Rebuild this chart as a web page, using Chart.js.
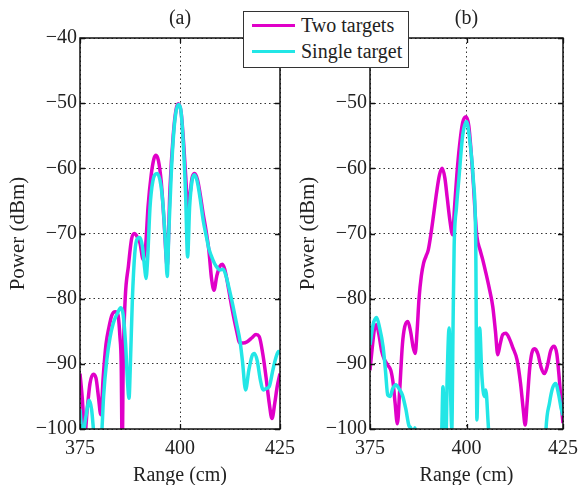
<!DOCTYPE html>
<html>
<head>
<meta charset="utf-8">
<script src="https://cdn.jsdelivr.net/npm/chart.js@4"></script>
<style>
  body { margin: 0; background: #fff; }
  #wrap { position: relative; width: 586px; height: 485px; background: #fff; }
  #wrap canvas { position: absolute; left: 0; top: 0; }
  #legend {
    position: absolute; left: 243px; top: 11px; width: 164px; height: 55px;
    border: 1px solid #333; background: #fff;
    font: 20px 'Liberation Serif', 'Times New Roman', serif; color: #222;
  }
  #legend .row { position: absolute; left: 8px; height: 24px; display: flex; align-items: center; white-space: nowrap; }
  #legend .swatch { width: 43px; height: 3px; margin-right: 6px; }
</style>
</head>
<body>
<div id="wrap">
  <canvas id="plotA" width="586" height="485"></canvas>
  <canvas id="plotB" width="586" height="485"></canvas>
  <div id="legend">
    <div class="row" style="top:1px"><span class="swatch" style="background:#e000c8"></span>Two targets</div>
    <div class="row" style="top:27px"><span class="swatch" style="background:#22e6e6"></span>Single target</div>
  </div>
</div>
<script>
const seriesNames = ['Two targets', 'Single target'];
const seriesColors = ['#e000c8', '#22e6e6'];
const rangeTicks = [375, 400, 425];
const powerTicks = [-100, -90, -80, -70, -60, -50, -40];

// panel (a)
const rangeTwoA = [
  375, 375.6, 376.2, 376.8, 377.5, 378.3, 379, 379.6, 380.2, 380.8,
  381.5, 382.2, 383, 383.8, 384.5, 385, 385.3, 385.55, 385.8, 386.3,
  387.1, 387.9, 388.6, 389.3, 390, 390.8, 391.4, 392, 392.8, 393.5,
  394, 394.6, 395.3, 396, 396.8, 397.5, 398.3, 399, 399.6, 400.3,
  401, 401.6, 402, 402.5, 403, 403.7, 404.4, 405, 405.8, 406.5,
  407.2, 407.9, 408.5, 409.2, 410, 410.6, 411.2, 412, 413, 414,
  415, 415.8, 416.8, 418, 419, 419.8, 420.7, 421.5, 422.3, 423,
  423.7, 424.3, 425
];
const powerTwoA = [
  -91.5, -95.5, -101, -97, -93, -91.6, -92.2, -95, -97.8, -92,
  -87, -84.5, -82.5, -82, -82.5, -86, -90, -104, -90, -80,
  -75, -70.8, -70, -70.5, -71.5, -74, -72, -66, -61, -58.5,
  -58, -58.8, -62, -68, -75, -63, -55, -51, -50.1, -51.5,
  -57, -63, -66, -64, -61.5, -60.8, -61.8, -63.8, -67, -69.5,
  -72.5, -77, -78.7, -76.5, -75, -74.7, -75.5, -78, -81.5, -84.5,
  -86.8, -86.8, -86.6, -86, -85.5, -85.8, -88.5, -92, -96, -98.4,
  -96, -93.5, -91.5
];
const rangeOneA = [
  375, 375.6, 376.5, 377.3, 377.9, 378.5, 379.5, 380.4, 380.9, 381.7,
  382.5, 383.3, 384.3, 385.2, 385.8, 386.4, 386.9, 387.25, 387.6, 388.1,
  388.7, 389.3, 390, 390.6, 391.2, 391.5, 391.9, 392.5, 393.2, 394.3,
  395.2, 395.8, 396.4, 396.8, 397.2, 397.8, 398.5, 399.1, 399.6, 400.2,
  400.8, 401.4, 401.9, 402.4, 403, 403.6, 404.3, 405, 405.8, 406.6,
  407.3, 408.2, 409, 410, 410.8, 411.5, 412.3, 413.2, 414.2, 415,
  415.6, 416.4, 417.2, 418, 418.6, 419.3, 420.1, 420.8, 421.5, 422.3,
  423.2, 424, 424.6, 425
];
const powerOneA = [
  -97, -101, -98, -95.6, -97, -101, -106, -101, -95, -89.4,
  -86, -83.8, -82.3, -81.4, -82.5, -87, -93, -95.3, -90, -80,
  -73, -70.8, -70.6, -72, -75.5, -76.9, -74, -66, -62, -60.8,
  -62.5, -66, -72, -76.6, -70, -61, -54, -51, -50.2, -51,
  -56, -64, -73.6, -66, -62, -61, -62, -64.5, -68, -70.5,
  -72.5, -74, -75, -75.6, -75.5, -76.5, -78.5, -81, -84, -86.5,
  -89.5, -94, -91, -88.8, -88.4, -89.5, -92.5, -94, -93.8, -93.5,
  -91, -89, -88.1, -88.5
];

// panel (b)
const rangeTwoB = [
  375, 375.5, 376.2, 376.7, 377.3, 378, 378.8, 379.6, 380.4, 381,
  381.5, 382.1, 382.7, 383.4, 384, 384.8, 385.5, 386.2, 386.7, 387.2,
  387.7, 388.3, 388.9, 389.5, 390.1, 390.8, 391.5, 392.3, 393, 393.7,
  394.4, 395, 395.7, 396.4, 396.9, 397.5, 398.2, 399, 399.9, 400.6,
  401.2, 401.8, 402.3, 402.7, 403.5, 404.2, 405, 406, 406.8, 407.5,
  408.1, 408.7, 409.4, 410.2, 411, 412, 413.1, 414, 414.7, 415.2,
  415.7, 416.4, 417.1, 417.7, 418.5, 419.3, 420.2, 421, 421.8, 422.7,
  423.4, 424, 424.6, 425
];
const powerTwoB = [
  -91, -88, -84.5, -84, -85.5, -88, -89.4, -90.2, -91, -93,
  -96, -99.2, -94, -87, -84.3, -83.5, -85, -87.5, -88.4, -85,
  -80, -76.5, -74.5, -73.5, -72.5, -70, -67, -63.5, -61, -60,
  -61.5, -64.5, -68, -70.2, -66, -61, -56.5, -53, -52.1, -53.5,
  -57.5, -62.5, -67.5, -70.5, -72.5, -74, -76, -78.7, -81.2, -85,
  -88.6, -87, -85.5, -85.3, -86, -87.5, -89.4, -93, -97, -99.4,
  -96, -90.5, -88, -87.7, -88.5, -90.5, -91.5, -90.2, -88, -87.3,
  -88.5, -92, -96.5, -99.1
];
const rangeOneB = [
  375, 375.8, 376.7, 377.5, 378.4, 379, 379.6, 380.2, 380.9, 381.7,
  382.5, 383.4, 384.3, 385.1, 385.6, 386, 386.6, 387.2, 388, 390,
  392, 393, 393.6, 393.9, 394.3, 394.6, 395, 395.5, 395.9, 396.2,
  396.5, 396.8, 397.4, 398, 399, 400, 400.9, 401.8, 402.4, 402.7,
  403, 403.4, 404, 404.6, 405, 405.6, 406.1, 407, 410, 415,
  420, 420.6, 421.5, 422.3, 423.1, 423.9, 424.5, 425
];
const powerOneB = [
  -87.1, -84, -82.9, -84.5, -87.4, -91, -94.8, -95, -93.8, -93.2,
  -93.8, -94.8, -97, -99.5, -99.9, -101.5, -99.8, -102, -108, -110,
  -110, -108, -100, -93.5, -100, -104, -92, -84.5, -95, -100,
  -85, -72, -66, -61.8, -55, -52.8, -56, -62, -72, -98.6,
  -90, -84.5, -92, -95, -94, -99, -104, -110, -110, -110,
  -110, -100, -96, -93.7, -93, -94.8, -96.8, -97.9
];

const serif = "'Liberation Serif', 'Times New Roman', serif";
const ink = '#222';

const toPoints = (xs, ys) => xs.map((x, i) => ({ x: x, y: ys[i] }));
const fmtPower = v => (v < 0 ? '\u2212' + Math.abs(v) : String(v));

// box round the plot area with inward tick marks on all four sides
const framePlugin = {
  id: 'frame',
  afterDatasetsDraw(chart) {
    const { ctx, chartArea: a, scales } = chart;
    ctx.save();
    ctx.strokeStyle = '#111';
    ctx.lineWidth = 1.5;
    ctx.strokeRect(a.left, a.top, a.right - a.left, a.bottom - a.top);
    ctx.lineWidth = 1.3;
    ctx.beginPath();
    scales.y.ticks.forEach(t => {
      const y = Math.round(scales.y.getPixelForValue(t.value)) + 0.5;
      ctx.moveTo(a.left, y); ctx.lineTo(a.left + 5, y);
      ctx.moveTo(a.right, y); ctx.lineTo(a.right - 5, y);
    });
    scales.x.ticks.forEach(t => {
      const x = Math.round(scales.x.getPixelForValue(t.value)) + 0.5;
      ctx.moveTo(x, a.bottom); ctx.lineTo(x, a.bottom - 5);
      ctx.moveTo(x, a.top); ctx.lineTo(x, a.top + 5);
    });
    ctx.stroke();
    ctx.restore();
  }
};

// "(a)" / "(b)" above each panel
const panelLabelPlugin = {
  id: 'panelLabel',
  afterDraw(chart, args, opts) {
    const { ctx, chartArea: a } = chart;
    ctx.save();
    ctx.font = '20px ' + serif;
    ctx.fillStyle = ink;
    ctx.textAlign = 'center';
    ctx.textBaseline = 'middle';
    ctx.fillText(opts.text, (a.left + a.right) / 2, a.top - 19);
    ctx.restore();
  }
};

function makePanel(canvasId, label, padding, twoX, twoY, oneX, oneY) {
  return new Chart(document.getElementById(canvasId), {
    type: 'line',
    data: {
      datasets: [
        {
          label: seriesNames[0],
          data: toPoints(twoX, twoY),
          borderColor: seriesColors[0],
          borderWidth: 3.5,
          pointRadius: 0,
          cubicInterpolationMode: 'monotone',
          clip: 0,
          order: 1
        },
        {
          label: seriesNames[1],
          data: toPoints(oneX, oneY),
          borderColor: seriesColors[1],
          borderWidth: 3.5,
          pointRadius: 0,
          cubicInterpolationMode: 'monotone',
          clip: 0,
          order: 0
        }
      ]
    },
    options: {
      responsive: false,
      animation: false,
      devicePixelRatio: 1,
      layout: { padding: padding },
      plugins: {
        legend: { display: false },
        tooltip: { enabled: false },
        panelLabel: { text: label }
      },
      scales: {
        x: {
          type: 'linear',
          min: 375,
          max: 425,
          afterBuildTicks: s => { s.ticks = rangeTicks.map(v => ({ value: v })); },
          afterFit: s => { s.height = 56; },
          grid: { color: '#333', lineWidth: 1, drawTicks: false },
          border: { display: false, dash: [1.5, 3] },
          ticks: { color: ink, font: { family: serif, size: 20 }, padding: 8, maxRotation: 0 },
          title: { display: true, text: 'Range (cm)', color: ink, font: { family: serif, size: 20 }, padding: { top: 0, bottom: -3 } }
        },
        y: {
          min: -100,
          max: -40,
          afterBuildTicks: s => { s.ticks = powerTicks.map(v => ({ value: v })); },
          afterFit: s => { s.width = 80; },
          grid: { color: '#333', lineWidth: 1, drawTicks: false },
          border: { display: false, dash: [1.5, 3] },
          ticks: { color: ink, font: { family: serif, size: 20 }, padding: 3, callback: fmtPower },
          title: { display: true, text: 'Power (dBm)', color: ink, font: { family: serif, size: 21 }, padding: { top: 6, bottom: 0 } }
        }
      }
    },
    plugins: [framePlugin, panelLabelPlugin]
  });
}

makePanel('plotA', '(a)', { left: 0, right: 306, top: 38, bottom: 0 }, rangeTwoA, powerTwoA, rangeOneA, powerOneA);
makePanel('plotB', '(b)', { left: 290, right: 17, top: 38, bottom: 0 }, rangeTwoB, powerTwoB, rangeOneB, powerOneB);
</script>
</body>
</html>
